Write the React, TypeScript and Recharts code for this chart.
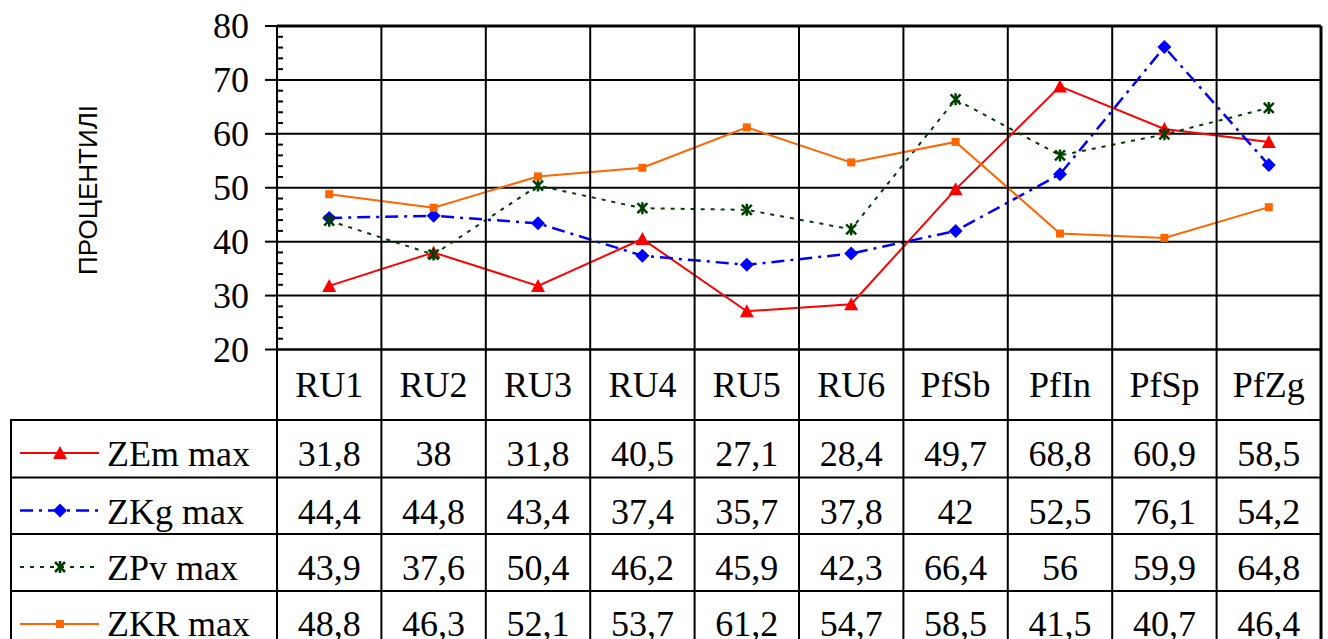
import React from "react";
import {
  LineChart,
  Line,
  XAxis,
  YAxis,
  CartesianGrid,
  ReferenceLine,
  Legend,
} from "recharts";

// Categories and series values
const categories = ["RU1", "RU2", "RU3", "RU4", "RU5", "RU6", "PfSb", "PfIn", "PfSp", "PfZg"];
const zemMax = [31.8, 38, 31.8, 40.5, 27.1, 28.4, 49.7, 68.8, 60.9, 58.5];
const zkgMax = [44.4, 44.8, 43.4, 37.4, 35.7, 37.8, 42, 52.5, 76.1, 54.2];
const zpvMax = [43.9, 37.6, 50.4, 46.2, 45.9, 42.3, 66.4, 56, 59.9, 64.8];
const zkrMax = [48.8, 46.3, 52.1, 53.7, 61.2, 54.7, 58.5, 41.5, 40.7, 46.4];

// Y axis ticks
const majorTicks = [20, 30, 40, 50, 60, 70, 80];
const allTicks = [
  20, 22, 24, 26, 28, 30, 32, 34, 36, 38, 40, 42, 44, 46, 48, 50,
  52, 54, 56, 58, 60, 62, 64, 66, 68, 70, 72, 74, 76, 78, 80,
];
const yTitle = "ПРОЦЕНТИЛІ";

const data = categories.map((name, i) => ({
  name,
  zem: zemMax[i],
  zkg: zkgMax[i],
  zpv: zpvMax[i],
  zkr: zkrMax[i],
}));

type MarkerKind = "triangle" | "diamond" | "star" | "square";

const SERIES: {
  key: string;
  name: string;
  values: number[];
  color: string;
  width: number;
  dash?: string;
  marker: MarkerKind;
}[] = [
  { key: "zem", name: "ZEm max", values: zemMax, color: "#FF0000", width: 2, marker: "triangle" },
  { key: "zkg", name: "ZKg max", values: zkgMax, color: "#0000FF", width: 2.5, dash: "13 6 3 6", marker: "diamond" },
  { key: "zpv", name: "ZPv max", values: zpvMax, color: "#003F00", width: 2, dash: "4 6", marker: "star" },
  { key: "zkr", name: "ZKR max", values: zkrMax, color: "#FF6600", width: 2, marker: "square" },
];

// Layout
const W = 1328;
const H = 639;
const PLOT_TOP = 26;
const PLOT_LEFT = 277;
const PLOT_RIGHT = 1321;
const PLOT_BOTTOM = 349.5;
const COL_W = (PLOT_RIGHT - PLOT_LEFT) / categories.length;
const ROW_TOPS = [420, 477.5, 534, 591];
const LEGEND_TOP = 418;
const serifText = {
  fontFamily: "'Liberation Serif', 'Times New Roman', serif",
  fontSize: 36,
};
const sansText = { fontFamily: "'Liberation Sans', Arial, sans-serif", fontSize: 26 };

const fmt = (v: number) => String(v).replace(".", ",");

const Marker = ({ kind, cx, cy, color }: { kind: MarkerKind; cx: number; cy: number; color: string }) => {
  if (kind === "triangle")
    return <polygon points={`${cx},${cy - 7} ${cx - 7},${cy + 6} ${cx + 7},${cy + 6}`} fill={color} />;
  if (kind === "diamond")
    return <polygon points={`${cx},${cy - 7} ${cx + 7},${cy} ${cx},${cy + 7} ${cx - 7},${cy}`} fill={color} />;
  if (kind === "square") return <rect x={cx - 4} y={cy - 4} width={8} height={8} fill={color} />;
  return (
    <g stroke={color} strokeWidth={2.5}>
      <line x1={cx - 5} y1={cy - 5} x2={cx + 5} y2={cy + 5} />
      <line x1={cx - 5} y1={cy + 5} x2={cx + 5} y2={cy - 5} />
      <line x1={cx} y1={cy - 6} x2={cx} y2={cy + 6} />
    </g>
  );
};

const makeDot = (kind: MarkerKind, color: string) => (props: any) => {
  const { cx, cy, index } = props;
  if (cx == null || cy == null) return <g key={`d-${index}`} />;
  return (
    <g key={`d-${kind}-${index}`}>
      <Marker kind={kind} cx={cx} cy={cy} color={color} />
    </g>
  );
};

// Y axis: labelled major ticks outside, short minor ticks inside
const YTick = (props: any) => {
  const { x, y, payload } = props;
  const v = payload.value as number;
  if (majorTicks.includes(v)) {
    return (
      <g>
        <line x1={x - 12} x2={x} y1={y} y2={y} stroke="#000" strokeWidth={2} />
        <text x={x - 28} y={y + 12} textAnchor="end" style={serifText} fill="#000">
          {v}
        </text>
      </g>
    );
  }
  return <line x1={x} x2={x + 6} y1={y} y2={y} stroke="#000" strokeWidth={2} />;
};

// X axis: each tick draws its column of the data table
const TableTick = (props: any) => {
  const { x, index, payload } = props;
  const half = payload?.offset || COL_W / 2;
  const left = x - half;
  const right = x + half;
  const isLast = index === categories.length - 1;
  return (
    <g>
      <line x1={right} x2={right} y1={PLOT_TOP} y2={H + 20} stroke="#000" strokeWidth={isLast ? 3 : 2} />
      {index === 0 && <line x1={left} x2={left} y1={PLOT_TOP} y2={H + 20} stroke="#000" strokeWidth={2} />}
      <text x={x} y={PLOT_BOTTOM + 47} textAnchor="middle" style={serifText} fill="#000">
        {payload.value}
      </text>
      {SERIES.map((s, r) => {
        const top = ROW_TOPS[r];
        return (
          <g key={s.key}>
            <line x1={left} x2={right} y1={top} y2={top} stroke="#000" strokeWidth={2} />
            <text x={x} y={Math.min(top + 46, H - 3)} textAnchor="middle" style={serifText} fill="#000">
              {fmt(s.values[index])}
            </text>
          </g>
        );
      })}
    </g>
  );
};

// Legend: left column of the data table
const LegendTable = () => (
  <svg width={268} height={H - LEGEND_TOP} style={{ display: "block" }}>
    <line x1={1} x2={1} y1={ROW_TOPS[0] - LEGEND_TOP} y2={H} stroke="#000" strokeWidth={2} />
    {SERIES.map((s, r) => {
      const top = ROW_TOPS[r] - LEGEND_TOP;
      const ly = top + 33;
      return (
        <g key={s.key}>
          <line x1={0} x2={268} y1={top} y2={top} stroke="#000" strokeWidth={2} />
          <line x1={10} x2={89} y1={ly} y2={ly} stroke={s.color} strokeWidth={s.width} strokeDasharray={s.dash} />
          <Marker kind={s.marker} cx={50} cy={ly} color={s.color} />
          <text x={97} y={Math.min(top + 46, H - LEGEND_TOP - 3)} style={serifText} fill="#000">
            {s.name}
          </text>
        </g>
      );
    })}
  </svg>
);

export default function App() {
  return (
    <div style={{ position: "absolute", left: 0, top: 0, width: W, height: H, background: "#fff" }}>
      <LineChart
        width={W}
        height={H}
        data={data}
        margin={{ top: PLOT_TOP, right: W - PLOT_RIGHT, bottom: 0, left: 0 }}
      >
        <CartesianGrid horizontal vertical={false} horizontalValues={majorTicks} stroke="#000" strokeWidth={2} />
        <XAxis
          dataKey="name"
          scale="band"
          height={H - PLOT_BOTTOM}
          interval={0}
          tickLine={false}
          tickSize={0}
          tickMargin={0}
          axisLine={{ stroke: "#000", strokeWidth: 2 }}
          tick={TableTick}
        />
        <YAxis
          width={PLOT_LEFT}
          domain={[20, 80]}
          ticks={allTicks}
          interval={0}
          allowDataOverflow
          tickLine={false}
          tickSize={0}
          tickMargin={0}
          axisLine={{ stroke: "#000", strokeWidth: 2 }}
          tick={YTick}
          label={{
            content: () => (
              <text
                x={97}
                y={190}
                transform="rotate(-90 97 190)"
                textAnchor="middle"
                style={sansText}
                fill="#000"
              >
                {yTitle}
              </text>
            ),
          }}
        />
        <ReferenceLine y={80} stroke="#000" strokeWidth={3} />
        {SERIES.map((s) => (
          <Line
            key={s.key}
            type="linear"
            dataKey={s.key}
            name={s.name}
            stroke={s.color}
            strokeWidth={s.width}
            strokeDasharray={s.dash}
            dot={makeDot(s.marker, s.color)}
            activeDot={false}
            isAnimationActive={false}
          />
        ))}
        <Legend
          layout="vertical"
          align="center"
          verticalAlign="middle"
          content={LegendTable}
          wrapperStyle={{ left: 10, top: LEGEND_TOP, width: 268, height: H - LEGEND_TOP, bottom: "auto" }}
        />
      </LineChart>
    </div>
  );
}
